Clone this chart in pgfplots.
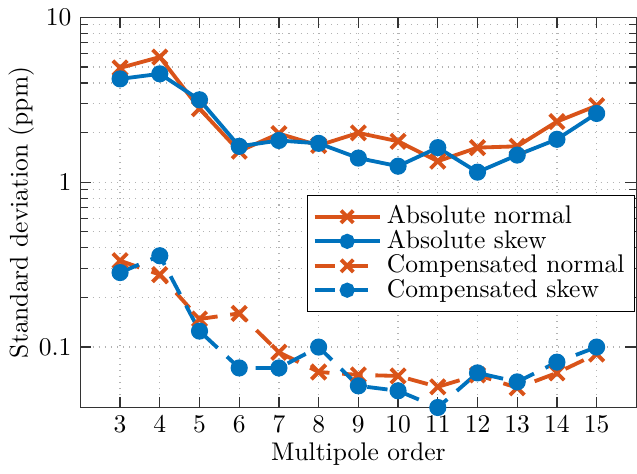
\documentclass[border=0pt]{standalone}
\usepackage{pgfplots}
\pgfplotsset{compat=1.18}
\definecolor{mOrange}{rgb}{0.85,0.325,0.098}
\definecolor{mBlue}{rgb}{0,0.447,0.741}
\begin{document}
\begin{tikzpicture}
\begin{axis}[
    scale only axis,
    width=218pt, height=153pt,
    ymode=log,
    xmin=2, xmax=16,
    ymin=0.043, ymax=10,
    xtick={3,4,...,15},
    ytick={0.1,1,10},
    yticklabels={0.1,1,10},
    xlabel={Multipole order},
    ylabel={Standard deviation (ppm)},
    grid=both,
    major grid style={dotted, gray!60, line width=0.5pt},
    minor grid style={dotted, gray!60, line width=0.5pt},
    tick align=inside,
    axis line style={black!80, line width=0.5pt},
    tick style={black!80, line width=0.5pt},
    xlabel style={yshift=3pt},
    ylabel style={yshift=-5pt},
    legend cell align=left,
    legend style={at={(0.998,0.545)}, anchor=north east, draw=black, line width=0.5pt,
        font=\normalsize, inner sep=2pt, row sep=-3pt},
    legend image code/.code={
        \draw[mark repeat=2,mark phase=2, every mark/.append style={scale=0.85}]
        plot coordinates {(0cm,0cm) (0.45cm,0cm) (0.9cm,0cm)};
    },
    every axis plot/.append style={line width=1.5pt},
]
\addplot[mOrange, mark=x, mark size=4pt] coordinates {
(3,4.93) (4,5.74) (5,2.79) (6,1.54) (7,1.97) (8,1.67) (9,1.99) (10,1.77)
(11,1.34) (12,1.62) (13,1.65) (14,2.33) (15,2.91)};
\addplot[mBlue, mark=*, mark size=2.6pt] coordinates {
(3,4.23) (4,4.54) (5,3.16) (6,1.65) (7,1.79) (8,1.72) (9,1.40) (10,1.25)
(11,1.62) (12,1.15) (13,1.46) (14,1.82) (15,2.61)};
\addplot[mOrange, dash pattern=on 8pt off 5pt, mark=x, mark size=4pt, mark options={solid}] coordinates {
(3,0.334) (4,0.275) (5,0.148) (6,0.160) (7,0.093) (8,0.0706) (9,0.0678) (10,0.0668)
(11,0.0574) (12,0.0678) (13,0.0566) (14,0.0697) (15,0.0908)};
\addplot[mBlue, dash pattern=on 8pt off 5pt, mark=*, mark size=2.6pt, mark options={solid}] coordinates {
(3,0.283) (4,0.358) (5,0.125) (6,0.0747) (7,0.0747) (8,0.100) (9,0.0582) (10,0.0543)
(11,0.043) (12,0.0697) (13,0.0615) (14,0.081) (15,0.100)};
\legend{Absolute normal, Absolute skew, Compensated normal, Compensated skew}
\end{axis}
\end{tikzpicture}
\end{document}
